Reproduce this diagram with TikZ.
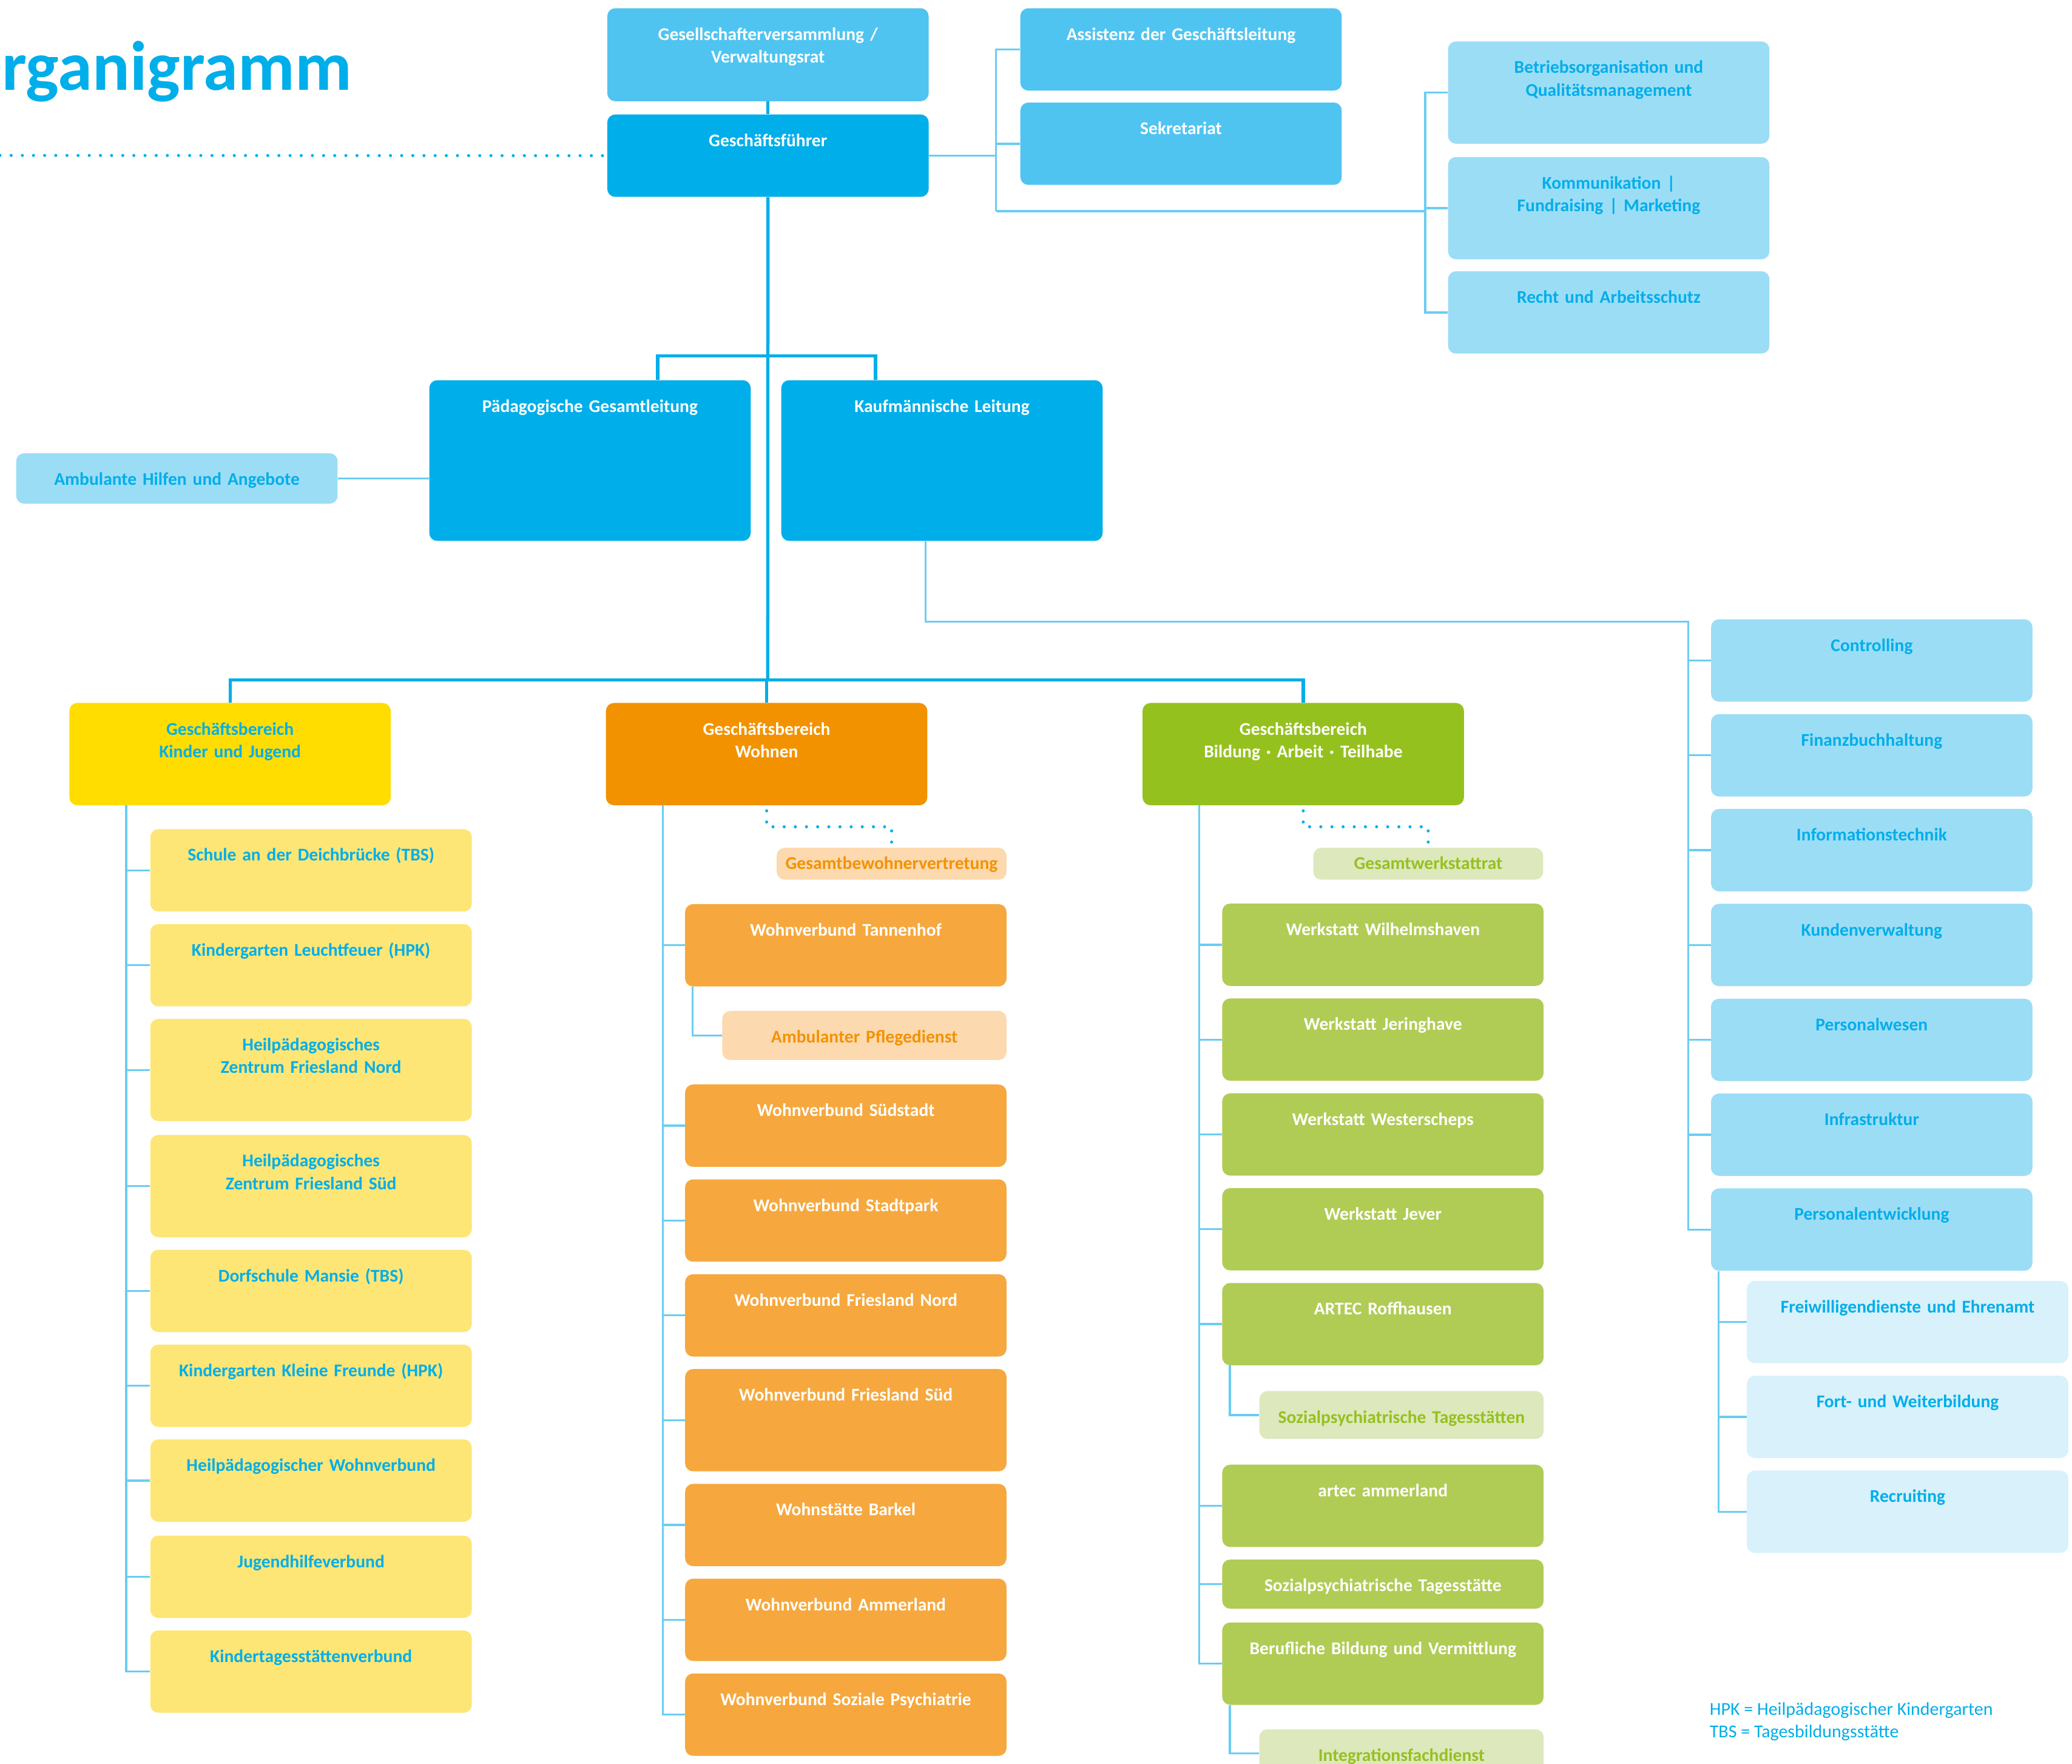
\documentclass[tikz,border=0pt]{standalone}
\usepackage{fontspec}
\setmainfont{Carlito}
\usetikzlibrary{positioning,calc}

\definecolor{dunkelblau}{HTML}{00AEEA}
\definecolor{mittelblau}{HTML}{50C4F1}
\definecolor{hellblau}{HTML}{9CDDF6}
\definecolor{blassblau}{HTML}{D8F1FB}
\definecolor{linie}{HTML}{6ACDF3}
\definecolor{gelb}{HTML}{FFDD00}
\definecolor{hellgelb}{HTML}{FDE675}
\definecolor{dorange}{HTML}{F39200}
\definecolor{morange}{HTML}{F6A83E}
\definecolor{horange}{HTML}{FCD9AF}
\definecolor{dgruen}{HTML}{95C11F}
\definecolor{mgruen}{HTML}{B0CC55}
\definecolor{hgruen}{HTML}{DDE8BD}

\begin{document}
\begin{tikzpicture}[
    x=1pt,y=-1pt,
    font=\fontsize{13.5}{17}\selectfont\bfseries
  ]
\def\gap{9pt}

\useasboundingbox (0,0) rectangle (1560,1327.5);
\clip (0,0) rectangle (1560,1327.5);

\tikzstyle{box}=[rounded corners=6pt,inner xsep=4pt,inner ysep=0pt,text width=234pt,align=center,text height=24pt,text depth=38pt]
\tikzstyle{schmal}=[text width=206pt]
\tikzstyle{rat}=[text width=165pt,text height=16.3pt,text depth=7.7pt]
\tikzstyle{stab}=[box,fill=mittelblau,text=white]
\tikzstyle{leitung}=[box,fill=dunkelblau,text=white]
\tikzstyle{stabhell}=[box,fill=hellblau,text=dunkelblau]
\tikzstyle{kjkopf}=[box,fill=gelb,text=dunkelblau,text depth=53pt]
\tikzstyle{kjbox}=[box,fill=hellgelb,text=dunkelblau]
\tikzstyle{wokopf}=[box,fill=dorange,text=white,text depth=53pt]
\tikzstyle{wobox}=[box,fill=morange,text=white]
\tikzstyle{wohell}=[box,fill=horange,text=dorange]
\tikzstyle{batkopf}=[box,fill=dgruen,text=white,text depth=53pt]
\tikzstyle{batbox}=[box,fill=mgruen,text=white]
\tikzstyle{bathell}=[box,fill=hgruen,text=dgruen]
\tikzstyle{verw}=[box,fill=hellblau,text=dunkelblau]
\tikzstyle{verwhell}=[box,fill=blassblau,text=dunkelblau]
\tikzstyle{legende}=[anchor=base west,inner sep=0pt,text=dunkelblau,font=\fontsize{13.7}{17}\selectfont]
\tikzstyle{hauptlinie}=[draw=dunkelblau,line width=2.4pt]
\tikzstyle{nebenlinie}=[draw=linie,line width=1.5pt]
\tikzstyle{punkte}=[draw=dunkelblau,line width=2.3pt,line cap=round,dash pattern=on 0pt off 8.4pt]

\node[anchor=base east,inner sep=0pt,text=dunkelblau,font=\fontsize{52.6}{54}\selectfont\bfseries] (titel) at (265,68) {Organigramm};

% Leitung und Stabsstellen
\node[stab,anchor=north west,text depth=46pt] (gv) at (457,6) {Gesellschafterversammlung /\\ Verwaltungsrat};
\node[leitung,anchor=north west] (gf) at (457,86) {Geschäftsführer};
\node[stab,anchor=north west] (ass) at (768,6) {Assistenz der Geschäftsleitung};
\node[stab,anchor=north west] (sek) at (768,77) {Sekretariat};
\node[stabhell,anchor=north west,text depth=53pt] (bo) at (1090,31) {Betriebsorganisation und\\ Qualitätsmanagement};
\node[stabhell,anchor=north west,text depth=53pt] (kom) at (1090,118) {Kommunikation |\\ Fundraising | Marketing};
\node[stabhell,anchor=north west] (recht) at (1090,204) {Recht und Arbeitsschutz};
\node[leitung,anchor=north west,text depth=97pt] (pgl) at (323,286) {Pädagogische Gesamtleitung};
\node[leitung,anchor=north west,text depth=97pt] (kl) at (588,286) {Kaufmännische Leitung};
\node[stabhell,anchor=north west,text depth=14pt] (amb) at (12,341) {Ambulante Hilfen und Angebote};

% Kinder und Jugend
\node[kjkopf,anchor=north west] (kj) at (52,529) {Geschäftsbereich\\ Kinder und Jugend};
\node[kjbox,anchor=north west] (kj1) at (113,624) {Schule an der Deichbrücke (TBS)};
\node[kjbox,below=\gap of kj1] (kj2) {Kindergarten Leuchtfeuer (HPK)};
\node[kjbox,below=\gap of kj2,text depth=53pt] (kj3) {Heilpädagogisches\\ Zentrum Friesland Nord};
\node[kjbox,below=10pt of kj3,text depth=53pt] (kj4) {Heilpädagogisches\\ Zentrum Friesland Süd};
\node[kjbox,below=\gap of kj4] (kj5) {Dorfschule Mansie (TBS)};
\node[kjbox,below=\gap of kj5] (kj6) {Kindergarten Kleine Freunde (HPK)};
\node[kjbox,below=\gap of kj6] (kj7) {Heilpädagogischer Wohnverbund};
\node[kjbox,below=10pt of kj7] (kj8) {Jugendhilfeverbund};
\node[kjbox,below=\gap of kj8] (kj9) {Kindertagesstättenverbund};

% Wohnen
\node[wokopf,anchor=north west] (wo) at (456,529) {Geschäftsbereich\\ Wohnen};
\node[wohell,rat,anchor=north east] (gbv) at (758,638) {Gesamtbewohnervertretung};
\node[wobox,below=18pt of gbv.south east,anchor=north east] (wo1) {Wohnverbund Tannenhof};
\node[wohell,schmal,below=18pt of wo1.south east,anchor=north east,text depth=13pt] (wo1a) {Ambulanter Pflegedienst};
\node[wobox,below=18pt of wo1a.south east,anchor=north east] (wo2) {Wohnverbund Südstadt};
\node[wobox,below=\gap of wo2] (wo3) {Wohnverbund Stadtpark};
\node[wobox,below=\gap of wo3] (wo4) {Wohnverbund Friesland Nord};
\node[wobox,below=\gap of wo4,text depth=53pt] (wo5) {Wohnverbund Friesland Süd};
\node[wobox,below=\gap of wo5] (wo6) {Wohnstätte Barkel};
\node[wobox,below=\gap of wo6] (wo7) {Wohnverbund Ammerland};
\node[wobox,below=\gap of wo7] (wo8) {Wohnverbund Soziale Psychiatrie};

% Bildung Arbeit Teilhabe
\node[batkopf,anchor=north west] (bat) at (860,529) {Geschäftsbereich\\ Bildung · Arbeit · Teilhabe};
\node[bathell,rat,anchor=north east] (gwr) at (1162,638) {Gesamtwerkstattrat};
\node[batbox,anchor=north west] (bat1) at (920,680) {Werkstatt Wilhelmshaven};
\node[batbox,below=\gap of bat1] (bat2) {Werkstatt Jeringhave};
\node[batbox,below=\gap of bat2] (bat3) {Werkstatt Westerscheps};
\node[batbox,below=\gap of bat3] (bat4) {Werkstatt Jever};
\node[batbox,below=\gap of bat4] (bat5) {ARTEC Roffhausen};
\node[bathell,schmal,below=19pt of bat5.south east,anchor=north east,text depth=12pt] (bat5a) {Sozialpsychiatrische Tagesstätten};
\node[batbox,below=19pt of bat5a.south east,anchor=north east] (bat6) {artec ammerland};
\node[batbox,below=\gap of bat6,text depth=13pt] (bat7) {Sozialpsychiatrische Tagesstätte};
\node[batbox,below=10pt of bat7] (bat8) {Berufliche Bildung und Vermittlung};
\node[bathell,schmal,below=18pt of bat8.south east,anchor=north east,text depth=12pt] (bat8a) {Integrationsfachdienst};

% kaufmaennische Verwaltung
\node[verw,anchor=north west] (kv1) at (1288,466) {Controlling};
\node[verw,below=\gap of kv1] (kv2) {Finanzbuchhaltung};
\node[verw,below=\gap of kv2] (kv3) {Informationstechnik};
\node[verw,below=\gap of kv3] (kv4) {Kundenverwaltung};
\node[verw,below=\gap of kv4] (kv5) {Personalwesen};
\node[verw,below=\gap of kv5] (kv6) {Infrastruktur};
\node[verw,below=\gap of kv6] (kv7) {Personalentwicklung};
\node[verwhell,anchor=north west] (pe1) at (1315,964) {Freiwilligendienste und Ehrenamt};
\node[verwhell,below=\gap of pe1] (pe2) {Fort- und Weiterbildung};
\node[verwhell,below=\gap of pe2] (pe3) {Recruiting};

\node[legende] (hpk) at (1287,1291) {HPK = Heilpädagogischer Kindergarten};
\node[legende] (tbs) at (1287,1308) {TBS = Tagesbildungsstätte};

% Linien
\coordinate (gabel) at (578,268);
\coordinate (bus) at (578,512);
\draw[hauptlinie] (gv.south) -- (gf.north);
\draw[hauptlinie] (gf.south) -- (bus);
\draw[hauptlinie] ($(pgl.north)+(51,0)$) |- (gabel) -| ($(kl.north)+(-50,0)$);
\draw[hauptlinie] (kj.north) |- (bus) -| (bat.north);
\draw[hauptlinie] (wo.north) |- (bus);

\coordinate (rand) at (0,117);
\draw[punkte] (rand) -- (gf.west);
\draw[punkte] ($(wo.south)+(0,4)$) -- ++(0,12) -| (gbv.north);
\draw[punkte] ($(bat.south)+(0,4)$) -- ++(0,12) -| (gwr.north);

\coordinate (stabx) at (750,159);
\coordinate (stabr) at (1073,159);
\draw[nebenlinie] (gf.east) -- (gf.east -| stabx);
\draw[nebenlinie] (stabx) |- (ass.west);
\draw[nebenlinie] (stabx) |- (sek.west);
\draw[nebenlinie] (stabx) -- (stabr);
\draw[nebenlinie] (stabr) |- (bo.west);
\draw[nebenlinie] (stabr) |- (kom.west);
\draw[nebenlinie] (stabr) |- (recht.west);
\draw[nebenlinie] (amb.east) -- (amb.east -| pgl.west);

\coordinate (kjx) at ($(kj.south west)+(43,0)$);
\draw[nebenlinie] (kjx) |- (kj1.west);
\draw[nebenlinie] (kjx) |- (kj2.west);
\draw[nebenlinie] (kjx) |- (kj3.west);
\draw[nebenlinie] (kjx) |- (kj4.west);
\draw[nebenlinie] (kjx) |- (kj5.west);
\draw[nebenlinie] (kjx) |- (kj6.west);
\draw[nebenlinie] (kjx) |- (kj7.west);
\draw[nebenlinie] (kjx) |- (kj8.west);
\draw[nebenlinie] (kjx) |- (kj9.west);

\coordinate (wox) at ($(wo.south west)+(43,0)$);
\draw[nebenlinie] (wox) |- (wo1.west);
\draw[nebenlinie] (wox) |- (wo2.west);
\draw[nebenlinie] (wox) |- (wo3.west);
\draw[nebenlinie] (wox) |- (wo4.west);
\draw[nebenlinie] (wox) |- (wo5.west);
\draw[nebenlinie] (wox) |- (wo6.west);
\draw[nebenlinie] (wox) |- (wo7.west);
\draw[nebenlinie] (wox) |- (wo8.west);
\draw[nebenlinie] ($(wo1.south west)+(6,0)$) |- (wo1a.west);

\coordinate (batx) at ($(bat.south west)+(43,0)$);
\draw[nebenlinie] (batx) |- (bat1.west);
\draw[nebenlinie] (batx) |- (bat2.west);
\draw[nebenlinie] (batx) |- (bat3.west);
\draw[nebenlinie] (batx) |- (bat4.west);
\draw[nebenlinie] (batx) |- (bat5.west);
\draw[nebenlinie] (batx) |- (bat6.west);
\draw[nebenlinie] (batx) |- (bat7.west);
\draw[nebenlinie] (batx) |- (bat8.west);
\draw[nebenlinie] ($(bat5.south west)+(6,0)$) |- (bat5a.west);
\draw[nebenlinie] ($(bat8.south west)+(6,0)$) |- (bat8a.west);

\coordinate (klab) at ($(kl.south west)+(109,0)$);
\coordinate (kvx) at (1271,468);
\draw[nebenlinie] (klab) |- (kvx) |- (kv7.west);
\draw[nebenlinie] (kvx) |- (kv1.west);
\draw[nebenlinie] (kvx) |- (kv2.west);
\draw[nebenlinie] (kvx) |- (kv3.west);
\draw[nebenlinie] (kvx) |- (kv4.west);
\draw[nebenlinie] (kvx) |- (kv5.west);
\draw[nebenlinie] (kvx) |- (kv6.west);

\coordinate (pex) at ($(kv7.south west)+(6,0)$);
\draw[nebenlinie] (pex) |- (pe1.west);
\draw[nebenlinie] (pex) |- (pe2.west);
\draw[nebenlinie] (pex) |- (pe3.west);

\end{tikzpicture}
\end{document}
